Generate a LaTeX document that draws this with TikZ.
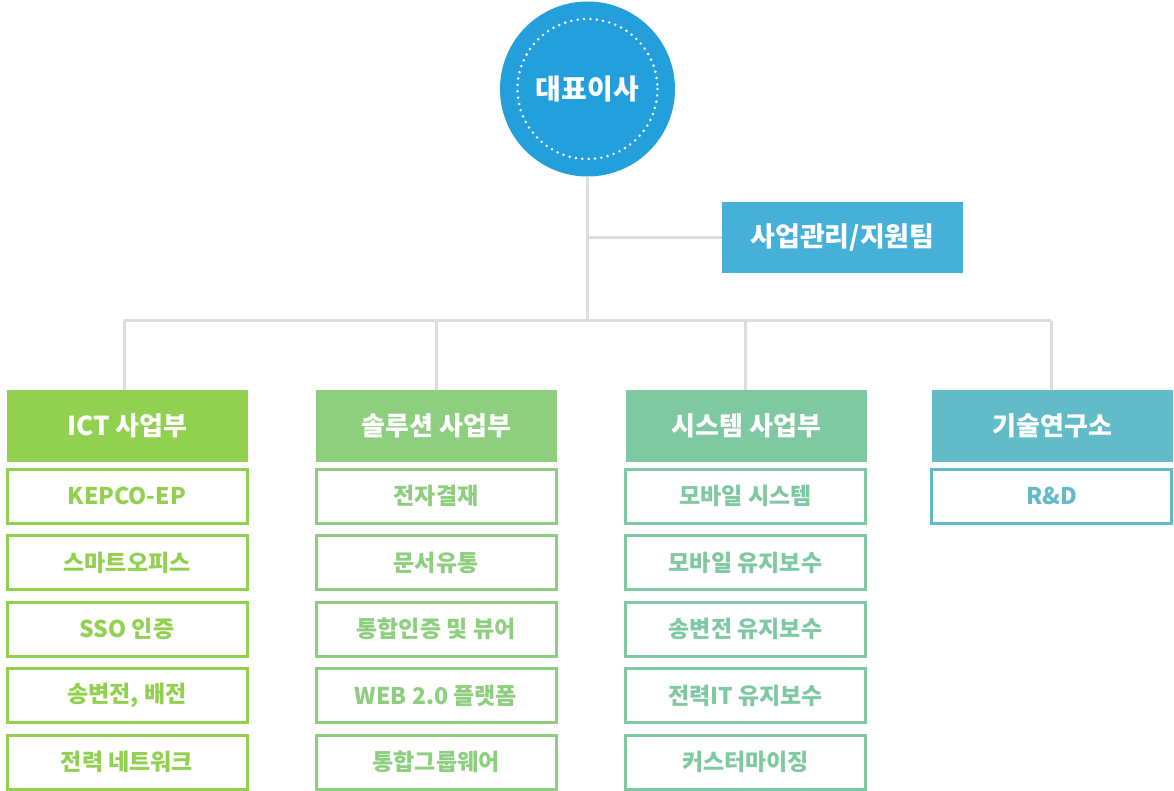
\documentclass[tikz,border=0pt]{standalone}
\usepackage{fontspec}
\setmainfont{Noto Sans CJK KR}
\usepackage{tikz}
\usetikzlibrary{positioning, calc}

\definecolor{ceoblue}{HTML}{23A0DB}
\definecolor{teamblue}{HTML}{45B0D8}
\definecolor{ictgreen}{HTML}{92D050}
\definecolor{solgreen}{HTML}{8DCF7E}
\definecolor{sysgreen}{HTML}{7FC9A2}
\definecolor{labteal}{HTML}{62BCC7}
\definecolor{linkgray}{HTML}{DDDDDD}

\tikzset{
  link/.style={draw=linkgray, line width=3pt},
  headbox/.style={fill=#1, minimum width=241pt, minimum height=72pt,
    inner sep=0pt, text=white, font=\fontsize{26}{26}\selectfont\bfseries},
  subbox/.style={draw=#1, line width=3pt, fill=white, minimum width=240pt,
    minimum height=54pt, inner sep=0pt, text=#1,
    font=\fontsize{23}{23}\selectfont\bfseries}
}

\begin{document}
\begin{tikzpicture}[x=1pt, y=-1pt]
\useasboundingbox (0,0) rectangle (1174,791);

% CEO circle
\node[circle, fill=ceoblue, minimum size=175pt, inner sep=0pt, text=white,
  font=\fontsize{28}{28}\selectfont\bfseries] (ceo) at (587.5,89) {대표이사};
\draw[white, line width=2.8pt, dash pattern=on 0pt off 6.4pt, line cap=round]
  (ceo.center) circle (70);

% support team
\node[fill=teamblue, minimum width=241pt, minimum height=71pt, inner sep=0pt,
  text=white, font=\fontsize{27}{27}\selectfont\bfseries] (mgmt) at (842.5,237.5) {사업관리/지원팀};

% division headers
\node[headbox=ictgreen] (ict) at (127.5,426) {ICT 사업부};
\node[headbox=solgreen] (sol) at (436.5,426) {솔루션 사업부};
\node[headbox=sysgreen] (sys) at (746.5,426) {시스템 사업부};
\node[headbox=labteal]  (lab) at (1052.5,426) {기술연구소};

% connectors
\coordinate (hub) at ($(ceo.south)+(0,144)$);
\coordinate (mgmtjoin) at (ceo.south |- mgmt.west);
\draw[link] (ceo.south) -- (hub);
\draw[link] (mgmtjoin) -- (mgmt.west);
\draw[link] ([xshift=-3.5pt]ict.north |- hub) -- ([xshift=-1.5pt]lab.north |- hub);
\foreach \d/\s in {ict/-3.5, sol/0, sys/-1.5, lab/-1.5} {
  \draw[link] ([xshift=\s pt]\d.north |- hub) -- ([xshift=\s pt]\d.north);
}

% ICT
\foreach \t [count=\i] in {KEPCO-EP, 스마트오피스, SSO 인증, {송변전, 배전}, 전력 네트워크} {
  \node[subbox=ictgreen] (ict\i) at (127,{496+66.5*(\i-1)}) {\t};
}
% solution
\foreach \t [count=\i] in {전자결재, 문서유통, 통합인증 및 뷰어, WEB 2.0 플랫폼, 통합그룹웨어} {
  \node[subbox=solgreen] (sol\i) at (436,{496+66.5*(\i-1)}) {\t};
}
% system
\foreach \t [count=\i] in {모바일 시스템, 모바일 유지보수, 송변전 유지보수, 전력IT 유지보수, 커스터마이징} {
  \node[subbox=sysgreen] (sys\i) at (745.5,{496+66.5*(\i-1)}) {\t};
}
% lab
\node[subbox=labteal] (lab1) at (1051.5,496) {R\&D};
\end{tikzpicture}
\end{document}
